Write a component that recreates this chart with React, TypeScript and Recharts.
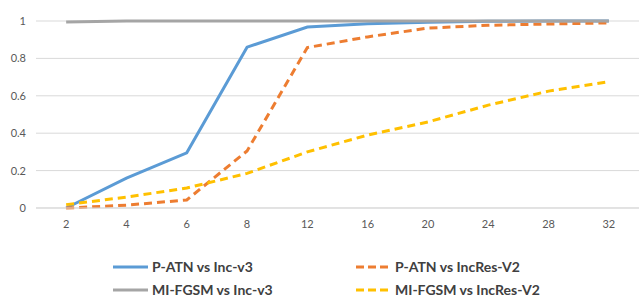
import { LineChart, Line, XAxis, YAxis, CartesianGrid } from 'recharts'

const steps = ['2', '4', '6', '8', '12', '16', '20', '24', '28', '32']
const patnIncV3 = [0.0, 0.16, 0.295, 0.86, 0.968, 0.985, 0.993, 0.998, 1.0, 1.0]
const patnIncResV2 = [0.0, 0.015, 0.043, 0.305, 0.858, 0.915, 0.962, 0.977, 0.984, 0.99]
const mifgsmIncV3 = [0.995, 1.0, 1.0, 1.0, 1.0, 1.0, 1.0, 1.0, 1.0, 1.0]
const mifgsmIncResV2 = [0.018, 0.058, 0.107, 0.185, 0.3, 0.39, 0.46, 0.55, 0.625, 0.675]
const yTicks = [0, 0.2, 0.4, 0.6, 0.8, 1]

const SERIES = [
  { key: 'patnIncV3', name: 'P-ATN vs Inc-v3', color: '#5B9BD5', dash: undefined },
  { key: 'patnIncResV2', name: 'P-ATN vs IncRes-V2', color: '#ED7D31', dash: '8 5' },
  { key: 'mifgsmIncV3', name: 'MI-FGSM vs Inc-v3', color: '#A5A5A5', dash: undefined },
  { key: 'mifgsmIncResV2', name: 'MI-FGSM vs IncRes-V2', color: '#FFC000', dash: '8 5' },
]

const data = steps.map((s, i) => ({
  step: s,
  patnIncV3: patnIncV3[i],
  patnIncResV2: patnIncResV2[i],
  mifgsmIncV3: mifgsmIncV3[i],
  mifgsmIncResV2: mifgsmIncResV2[i],
}))

const FONT = 'Lato, "Open Sans", sans-serif'

function LegendItem({ name, color, dash }: { name: string; color: string; dash?: string }) {
  return (
    <div style={{ display: 'flex', alignItems: 'center', height: 23 }}>
      <svg width={38} height={6} style={{ marginRight: 2 }}>
        <line x1={1} y1={3} x2={36} y2={3} stroke={color} strokeWidth={3} strokeDasharray={dash ? '8 4' : undefined} />
      </svg>
      <span style={{ fontWeight: 700, fontSize: 14, color: '#404040' }}>{name}</span>
    </div>
  )
}

export default function App() {
  return (
    <div style={{ position: 'absolute', left: 0, top: 0, width: 639, height: 304, background: '#fff', fontFamily: FONT }}>
      <LineChart width={639} height={304} data={data} margin={{ top: 21, right: 0, bottom: 76, left: 0 }}>
        <CartesianGrid vertical={false} stroke="#d9d9d9" strokeWidth={1} />
        <XAxis
          dataKey="step"
          scale="band"
          height={20}
          tickLine={false}
          axisLine={{ stroke: '#d9d9d9' }}
          tick={{ fill: '#595959', fontSize: 11, fontFamily: FONT }}
          tickMargin={6}
          interval={0}
        />
        <YAxis
          width={36}
          domain={[0, 1]}
          ticks={yTicks}
          tickLine={false}
          axisLine={false}
          tickSize={0}
          tickMargin={10}
          tick={{ fill: '#595959', fontSize: 11, fontFamily: FONT }}
        />
        {SERIES.map((s) => (
          <Line
            key={s.key}
            dataKey={s.key}
            name={s.name}
            stroke={s.color}
            strokeWidth={3}
            strokeDasharray={s.dash}
            dot={false}
            type="linear"
            isAnimationActive={false}
          />
        ))}
      </LineChart>
      <div style={{ position: 'absolute', left: 112, top: 255, display: 'grid', gridTemplateColumns: '243px 260px' }}>
        {SERIES.map((s) => (
          <LegendItem key={s.key} name={s.name} color={s.color} dash={s.dash} />
        ))}
      </div>
    </div>
  )
}
